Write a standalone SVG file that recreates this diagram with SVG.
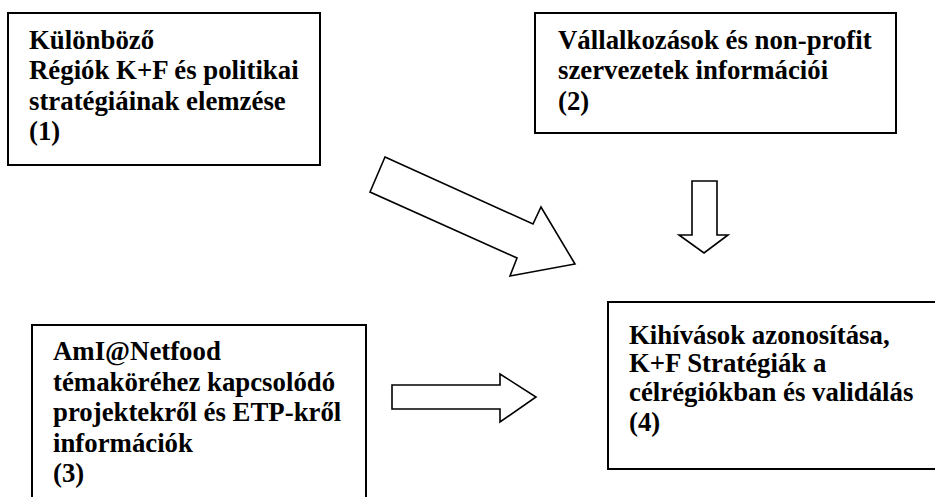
<svg xmlns="http://www.w3.org/2000/svg" width="935" height="497" viewBox="0 0 935 497">
<style>
.box{fill:#fff;stroke:#000;stroke-width:2}
.arr{fill:#fff;stroke:#000;stroke-width:1.6;stroke-linejoin:miter}
text{font-family:"Liberation Serif","Times New Roman",serif;font-weight:bold;font-size:26.8px;fill:#000}
</style>
<rect width="935" height="497" fill="#fff"/>
<g id="connectors">
<polygon class="arr" points="385,157 533,224 541,207 575,264 510,276 517,258 370,192"/>
<polygon class="arr" points="692,181 717,181 717,235 728,235 704,253 679,235 692,235"/>
<polygon class="arr" points="392,385 500,385 500,374 536,397 500,422 500,409 392,409"/>
</g>
<g id="node1">
<rect class="box" x="8" y="13" width="312" height="152"/>
<text x="29" y="48.5">Különböző</text>
<text x="29" y="79">Régiók K+F és politikai</text>
<text x="29" y="109.5">stratégiáinak elemzése</text>
<text x="29" y="140">(1)</text>
</g>
<g id="node2">
<rect class="box" x="535" y="13" width="361" height="120"/>
<text x="558" y="48.5">Vállalkozások és non-profit</text>
<text x="558" y="79">szervezetek információi</text>
<text x="558" y="109.5">(2)</text>
</g>
<g id="node3">
<rect class="box" x="32" y="325" width="334" height="180"/>
<text x="53" y="360">AmI@Netfood</text>
<text x="53" y="390.5">témaköréhez kapcsolódó</text>
<text x="53" y="421">projektekről és ETP-kről</text>
<text x="53" y="451.5">információk</text>
<text x="53" y="482">(3)</text>
</g>
<g id="node4">
<rect class="box" x="608" y="302" width="340" height="167"/>
<text x="629" y="343.5">Kihívások azonosítása,</text>
<text x="629" y="372">K+F Stratégiák a</text>
<text x="629" y="401">célrégiókban és validálás</text>
<text x="629" y="431">(4)</text>
</g>
</svg>
